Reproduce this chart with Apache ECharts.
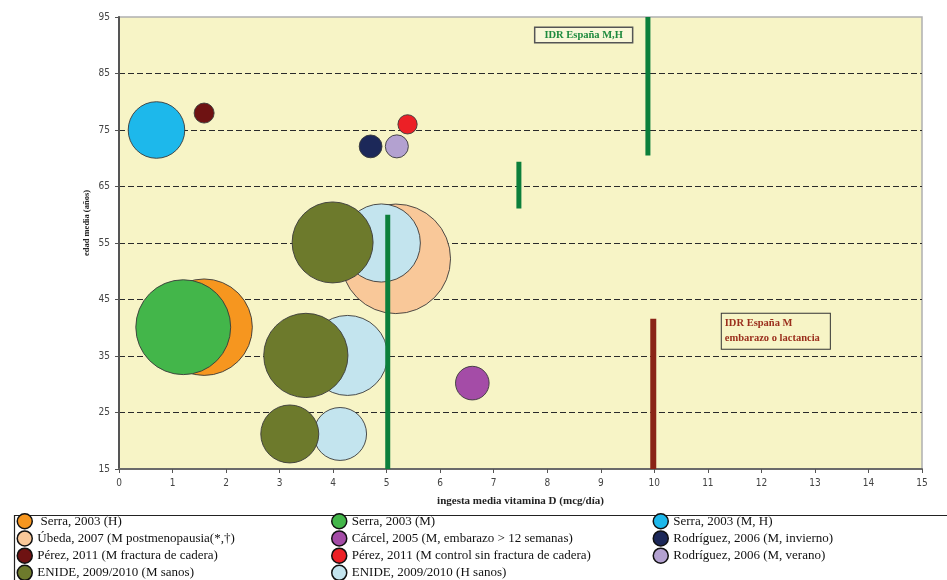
<!DOCTYPE html>
<html>
<head>
<meta charset="utf-8">
<script src="https://cdn.jsdelivr.net/npm/echarts@6/dist/echarts.min.js"></script>
<style>html,body{margin:0;padding:0;background:#fff}#c{width:947px;height:580px}</style>
</head>
<body>
<div id="c"></div>
<script>
// [ingesta media vitamina D (mcg/día), edad media (años), tamaño relativo de burbuja]
const serraH = [[1.59, 40.1, 93]];
const serraM = [[1.20, 40.1, 90]];
const serraMH = [[0.70, 75.0, 32]];
const ubeda = [[5.17, 52.2, 120]];
const carcel = [[6.60, 30.2, 11.3]];
const rodriguezInvierno = [[4.70, 72.1, 5.2]];
const perezFractura = [[1.59, 78.0, 4.0]];
const perezControl = [[5.39, 76.0, 3.7]];
const rodriguezVerano = [[5.19, 72.1, 5.3]];
const enideM = [[3.99, 55.1, 65.6], [3.49, 35.1, 71], [3.19, 21.2, 33.6]];
const enideH = [[4.90, 55.0, 61], [4.27, 35.1, 64], [4.13, 21.2, 28]];

// Líneas de referencia IDR
const idrMH = [[9.88, 70.5], [9.88, 95]];
const idrIntermedia = [[7.47, 61.1], [7.47, 69.4]];
const idrBasica = [[5.02, 15], [5.02, 60]];
const idrEmbarazo = [[9.98, 15], [9.98, 41.6]];

const xTicks = [0, 15, 1];
const yTicks = [15, 95, 10];

const nombres = {
  serraH: ' Serra, 2003 (H)',
  serraM: 'Serra, 2003 (M)',
  serraMH: 'Serra, 2003 (M, H)',
  ubeda: 'Úbeda, 2007 (M postmenopausia(*,†)',
  carcel: 'Cárcel, 2005 (M, embarazo > 12 semanas)',
  rodInv: 'Rodríguez, 2006 (M, invierno)',
  perezF: 'Pérez, 2011 (M fractura de cadera)',
  perezC: 'Pérez, 2011 (M control sin fractura de cadera)',
  rodVer: 'Rodríguez, 2006 (M, verano)',
  enideM: 'ENIDE, 2009/2010 (M sanos)',
  enideH: 'ENIDE, 2009/2010 (H sanos)'
};

function bubble(name, data, color) {
  return {
    type: 'scatter', name: name, data: data,
    symbolSize: v => 10 * Math.sqrt(v[2]),
    itemStyle: { color: color, opacity: 1, borderColor: '#3a3a3a', borderWidth: 0.9 },
    emphasis: { disabled: true }
  };
}
function refLine(data, color, width) {
  return {
    type: 'line', data: data, symbol: 'none', z: 5, silent: true,
    lineStyle: { color: color, width: width, cap: 'butt' }
  };
}

const tickFont = '"Liberation Sans Narrow", "DejaVu Sans Condensed", "Liberation Sans", sans-serif';
const chart = echarts.init(document.getElementById('c'), null, { renderer: 'canvas' });
const legendBase = {
  orient: 'vertical', top: 513, height: 120, padding: 0, itemWidth: 15, itemHeight: 15, itemGap: 0.7,
  icon: 'circle', selectedMode: false,
  itemStyle: { borderColor: '#111', borderWidth: 1.5 },
  textStyle: { fontFamily: 'Liberation Serif', fontSize: 13, lineHeight: 15, color: '#111' }
};
chart.setOption({
  animation: false,
  backgroundColor: '#fff',
  grid: { left: 119, right: 25, top: 17, bottom: 111, show: true, backgroundColor: '#F7F4C6', borderColor: '#b0b0b0', borderWidth: 1.5 },
  xAxis: {
    type: 'value', min: xTicks[0], max: xTicks[1], interval: xTicks[2],
    name: 'ingesta media vitamina D (mcg/día)', nameLocation: 'middle', nameGap: 27,
    nameTextStyle: { fontFamily: 'Liberation Serif', fontWeight: 'bold', fontSize: 11, color: '#222' },
    axisLine: { lineStyle: { color: '#6a6a6a', width: 2 } },
    axisTick: { show: true, length: 4, lineStyle: { color: '#555' } },
    axisLabel: { fontFamily: tickFont, fontSize: 10, color: '#444', margin: 9 },
    splitLine: { show: false }
  },
  yAxis: {
    type: 'value', min: yTicks[0], max: yTicks[1], interval: yTicks[2],
    axisLine: { show: true, lineStyle: { color: '#555', width: 2 } },
    axisTick: { show: true, length: 4, lineStyle: { color: '#555' } },
    axisLabel: { fontFamily: tickFont, fontSize: 10, color: '#444', margin: 9 },
    splitLine: { show: true, showMinLine: false, showMaxLine: false, lineStyle: { color: '#2a2a2a', width: 1.2, type: [6, 3] } }
  },
  legend: [
    Object.assign({}, legendBase, { left: 16.5, data: [nombres.serraH, nombres.ubeda, nombres.perezF, nombres.enideM] }),
    Object.assign({}, legendBase, { left: 331, data: [nombres.serraM, nombres.carcel, nombres.perezC, nombres.enideH] }),
    Object.assign({}, legendBase, { left: 652.5, data: [nombres.serraMH, nombres.rodInv, nombres.rodVer] })
  ],
  graphic: [
    { type: 'rect', left: 12, top: 513, shape: { width: 960, height: 90 }, style: { fill: 'none', stroke: '#222', lineWidth: 1.2 }, z: -1 },
    { type: 'text', x: 87, y: 223, rotation: Math.PI / 2,
      style: { text: 'edad media (años)', font: 'bold 8.5px "Liberation Serif"', fill: '#222', align: 'center', verticalAlign: 'middle' } }
  ],
  series: [
    bubble(nombres.ubeda, ubeda, '#F9C899'),
    bubble(nombres.enideH, enideH, '#C3E4EE'),
    bubble(nombres.enideM, enideM, '#6D7A2C'),
    bubble(nombres.serraH, serraH, '#F6961F'),
    bubble(nombres.serraM, serraM, '#43B64A'),
    bubble(nombres.serraMH, serraMH, '#1DB8EB'),
    bubble(nombres.carcel, carcel, '#A44CA7'),
    bubble(nombres.rodInv, rodriguezInvierno, '#1C2859'),
    bubble(nombres.rodVer, rodriguezVerano, '#B3A1D0'),
    bubble(nombres.perezF, perezFractura, '#6E1212'),
    bubble(nombres.perezC, perezControl, '#EC2026'),
    refLine(idrBasica, '#0C7F3B', 5),
    refLine(idrIntermedia, '#0C7F3B', 5),
    refLine(idrMH, '#0C7F3B', 5),
    refLine(idrEmbarazo, '#8A2417', 6),
    {
      type: 'scatter', data: [], silent: true, z: 6,
      markPoint: {
        symbolSize: 0, silent: true,
        data: [
          { coord: [8.68, 91.8], label: { show: true, position: 'inside', formatter: 'IDR España M,H',
              fontFamily: 'Liberation Serif', fontWeight: 'bold', fontSize: 10.5, color: '#1E8A3E',
              backgroundColor: '#F9F7D8', borderColor: '#555', borderWidth: 1.5, padding: [2, 9, 1, 9] } },
          { coord: [11.26, 39.4], label: { show: true, position: 'inside', formatter: 'IDR España M\nembarazo o lactancia', align: 'left',
              fontFamily: 'Liberation Serif', fontWeight: 'bold', fontSize: 10.5, lineHeight: 15, color: '#9A2E1C',
              backgroundColor: '#F7F4C6', borderColor: '#333', borderWidth: 1, padding: [3, 10, 2, 3] } }
        ]
      }
    }
  ]
});
</script>
</body>
</html>
